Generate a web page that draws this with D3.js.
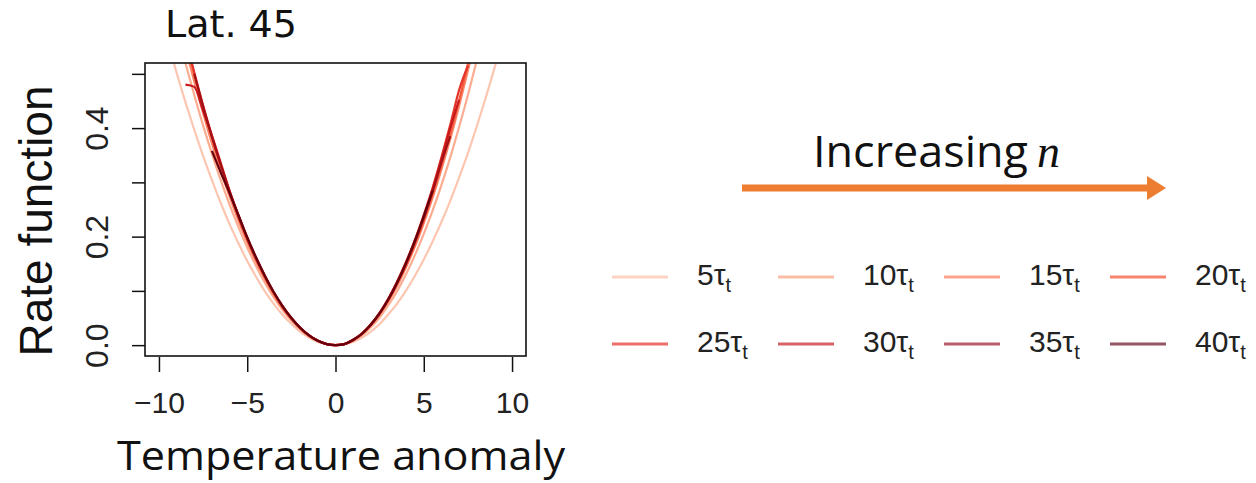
<!DOCTYPE html>
<html><head><meta charset="utf-8">
<script src="https://cdn.jsdelivr.net/npm/d3@7"></script>
<style>body{margin:0;background:#fff}</style>
</head><body><svg id="c" width="1256" height="483"></svg>
<script>
// ---------- data ----------
const xGrid = [-10,-9.5,-9,-8.5,-8,-7.5,-7,-6.5,-6,-5.5,-5,-4.5,-4,-3.5,-3,-2.5,-2,-1.5,-1,-0.5,0,
               0.5,1,1.5,2,2.5,3,3.5,4,4.5,5,5.5,6,6.5,7,7.5,8,8.5,9,9.5,10];
const s5  = [0.620,0.560,0.502,0.448,0.397,0.349,0.304,0.262,0.223,0.188,0.155,0.126,0.099,0.076,0.056,0.039,0.025,0.014,0.006,0.002,0,
             0.002,0.006,0.014,0.025,0.039,0.057,0.077,0.101,0.128,0.158,0.191,0.227,0.266,0.309,0.354,0.403,0.455,0.510,0.569,0.630];
const s10 = [null,null,0.583,0.520,0.461,0.405,0.353,0.304,0.259,0.218,0.180,0.146,0.115,0.088,0.065,0.045,0.029,0.016,0.007,0.002,0,
             0.002,0.008,0.018,0.033,0.051,0.074,0.100,0.131,0.166,0.205,0.248,0.295,0.346,0.402,0.461,0.525,0.592,null,null,null];
const s15 = [null,null,null,0.549,0.486,0.428,0.372,0.321,0.274,0.230,0.190,0.154,0.122,0.093,0.068,0.048,0.030,0.017,0.008,0.002,0,
             0.002,0.009,0.020,0.036,0.056,0.081,0.110,0.144,0.182,0.225,0.272,0.324,0.380,0.441,0.506,0.576,null,null,null,null];
const s20 = [null,null,null,0.564,0.499,0.439,0.382,0.330,0.281,0.236,0.195,0.158,0.125,0.096,0.070,0.049,0.031,0.018,0.008,0.002,0,
             0.002,0.009,0.021,0.037,0.058,0.083,0.113,0.147,0.186,0.230,0.278,0.331,0.389,0.451,0.518,0.589,null,null,null,null];
const s25 = [null,null,null,0.565,0.503,0.442,0.386,0.332,0.283,0.238,0.197,0.160,0.126,0.097,0.071,0.050,0.032,0.018,0.008,0.002,0,
             0.002,0.010,0.022,0.038,0.060,0.086,0.118,0.154,0.194,0.240,0.290,0.346,0.406,0.470,0.515,null,null,null,null,null];
const s30 = [null,null,null,0.480,0.476,0.432,0.386,0.336,0.285,0.240,0.198,0.161,0.128,0.098,0.072,0.050,0.032,0.018,0.008,0.002,0,
             0.002,0.010,0.021,0.038,0.059,0.086,0.117,0.152,0.192,0.237,0.287,0.342,0.400,0.452,null,null,null,null,null,null];
const s35 = [null,null,null,null,0.500,0.440,0.384,0.332,0.283,0.238,0.197,0.160,0.127,0.097,0.072,0.050,0.032,0.018,0.008,0.002,0,
             0.002,0.009,0.021,0.037,0.058,0.084,0.115,0.150,0.190,0.234,0.283,0.337,0.385,null,null,null,null,null,null,null];
const s40 = [null,null,null,null,null,null,0.358,0.318,0.280,0.240,0.199,0.162,0.128,0.098,0.072,0.050,0.032,0.018,0.008,0.002,0,
             0.002,0.010,0.021,0.038,0.059,0.085,0.116,0.152,0.193,0.238,0.285,null,null,null,null,null,null,null,null,null];
const seriesNames = ["5","10","15","20","25","30","35","40"];
const seriesValues = [s5,s10,s15,s20,s25,s30,s35,s40];
const xTicks = [-10,-5,0,5,10];
const xTickLabels = ["\u221210","\u22125","0","5","10"];
const yTicks = [0,0.1,0.2,0.3,0.4,0.5];
const yTickLabels = ["0.0","","0.2","","0.4",""];

// ---------- styles ----------
const lineColors = ["#FCC6B1","#FCAC90","#FB8464","#F45A40","#E4352A","#C8191E","#A31016","#67000D"];
const legendColors = ["#FDD3C3","#FCBDA5","#FBA38D","#F7846F","#EE6F68","#D6626A","#B95F6A","#955464"];
const rFont = "'Liberation Sans', Arial, sans-serif";
const aFont = "'Open Sans', 'Noto Sans', sans-serif";

const svg = d3.select("#c");
svg.append("rect").attr("width",1256).attr("height",483).attr("fill","#fff");

const x = d3.scaleLinear().domain([-10.79,10.79]).range([145,526]);
const y = d3.scaleLinear().domain([-0.02,0.52]).range([356,63]);

svg.append("defs").append("clipPath").attr("id","clip")
  .append("rect").attr("x",145).attr("y",63).attr("width",381).attr("height",293);

const line = d3.line()
  .defined(d => d[1] !== null)
  .x(d => x(d[0])).y(d => y(d[1]))
  .curve(d3.curveMonotoneX);

const gLines = svg.append("g").attr("clip-path","url(#clip)");
seriesValues.forEach((vals,i) => {
  gLines.append("path")
    .datum(xGrid.map((xv,j) => [xv, vals[j]]))
    .attr("d", line)
    .attr("fill","none")
    .attr("stroke", lineColors[i])
    .attr("stroke-width", 2.2)
    .attr("stroke-linejoin","round");
});

// box
svg.append("rect").attr("x",145).attr("y",63).attr("width",381).attr("height",293)
  .attr("fill","none").attr("stroke","#111").attr("stroke-width",1.6);

// y axis
const gy = svg.append("g").attr("transform","translate(145,0)")
  .attr("font-size",32).attr("font-family",rFont)
  .call(d3.axisLeft(y).tickValues(yTicks).tickSize(13).tickFormat((d,i)=>yTickLabels[i]));
gy.attr("font-size",32).attr("font-family",rFont);
gy.select(".domain").remove();
gy.selectAll(".tick line").attr("stroke","#111").attr("stroke-width",1.5);
gy.selectAll(".tick text")
  .attr("transform","rotate(-90)").attr("x",0).attr("y",-37).attr("dy",0)
  .attr("text-anchor","middle")
  .style("font-family",rFont).style("font-size","32px").attr("fill","#222");

// x axis
const gx = svg.append("g").attr("transform","translate(0,357)")
  .call(d3.axisBottom(x).tickValues(xTicks).tickSize(15).tickFormat((d,i)=>xTickLabels[i]));
gx.attr("font-size",30).attr("font-family",rFont);
gx.select(".domain").remove();
gx.selectAll(".tick line").attr("stroke","#111").attr("stroke-width",1.5);
gx.selectAll(".tick text").attr("y",56).attr("dy",0)
  .style("font-family",rFont).style("font-size","30px").attr("fill","#222");

// axis titles
svg.append("text").attr("transform","translate(52,221) rotate(-90)")
  .attr("text-anchor","middle").style("font-family",rFont).style("font-size","46px")
  .attr("fill","#111").text("Rate function");
svg.append("text").attr("x",117).attr("y",470)
  .attr("textLength",448).attr("lengthAdjust","spacingAndGlyphs")
  .style("font-family",aFont).style("font-size","40px").attr("fill","#111").text("Temperature anomaly");
svg.append("text").attr("x",165).attr("y",37)
  .attr("textLength",132).attr("lengthAdjust","spacingAndGlyphs")
  .style("font-family","'DejaVu Sans', sans-serif").style("font-size","38px").attr("fill","#111").text("Lat. 45");

// Increasing n arrow
svg.append("text").attr("x",813).attr("y",167)
  .attr("textLength",215).attr("lengthAdjust","spacingAndGlyphs")
  .style("font-family",aFont).style("font-size","44px").attr("fill","#111").text("Increasing");
svg.append("text").attr("x",1037).attr("y",167)
  .style("font-family","'Liberation Serif', 'DejaVu Serif', serif").style("font-style","italic")
  .style("font-size","46px").attr("fill","#111").text("n");
const arrowColor = "#ED7D31";
svg.append("line").attr("x1",742).attr("x2",1150).attr("y1",188).attr("y2",188)
  .attr("stroke",arrowColor).attr("stroke-width",7);
svg.append("path").attr("d","M1147,176 L1166,188 L1147,200 Z").attr("fill",arrowColor);

// legend
const legCols = [612,778,944,1110];
const legRows = [277,344];
seriesNames.forEach((nm,i) => {
  const cx = legCols[i%4], cy = legRows[Math.floor(i/4)];
  svg.append("line").attr("x1",cx).attr("x2",cx+56).attr("y1",cy).attr("y2",cy)
    .attr("stroke",legendColors[i]).attr("stroke-width",3);
  const t = svg.append("text").attr("x",cx+85).attr("y",cy+8)
    .style("font-family",rFont).style("font-size","30px").attr("fill","#222");
  t.append("tspan").text(nm + "\u03C4");
  t.append("tspan").attr("dy",7).style("font-size","20px").text("t");
});
</script>
</body></html>
